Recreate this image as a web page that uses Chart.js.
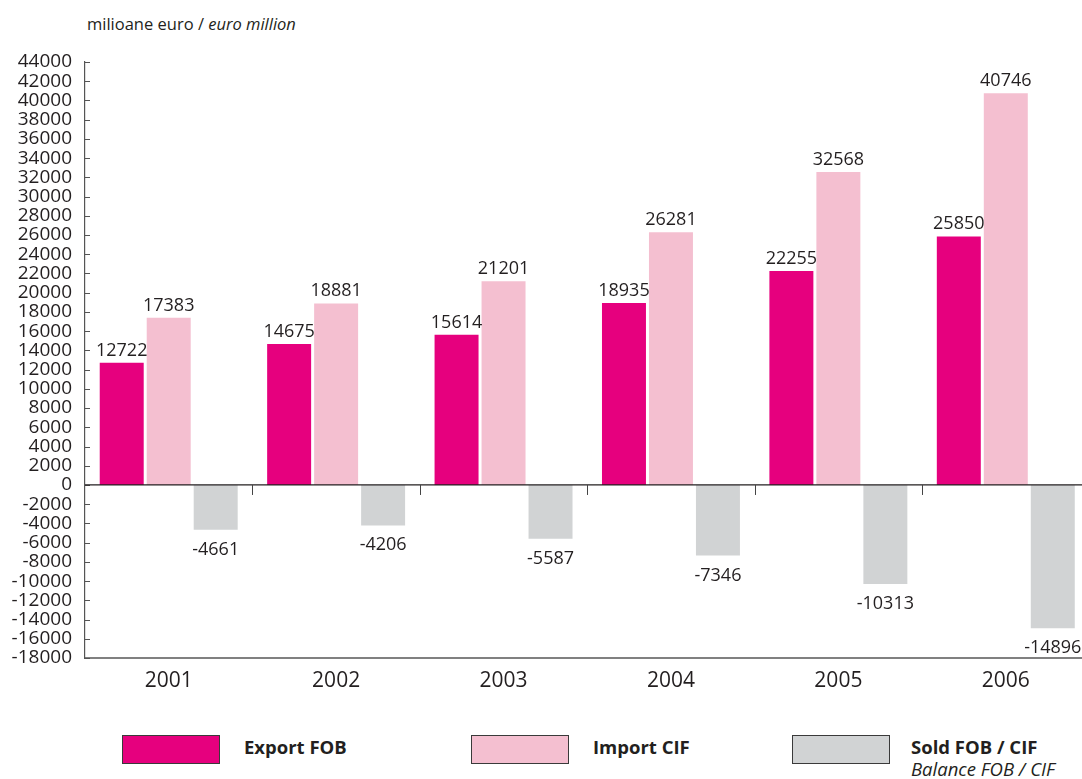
<!DOCTYPE html>
<html>
<head>
<meta charset="utf-8">
<title>Export / Import</title>
<script src="https://cdn.jsdelivr.net/npm/chart.js@4/dist/chart.umd.min.js"></script>
<style>
	body { margin: 0; overflow: hidden; background: #fff; font-family: "Open Sans", sans-serif; color: #231f20; }
	#wrap { position: relative; width: 1082px; height: 779px; overflow: hidden; }
	#unit { position: absolute; left: 87px; top: 12px; font-size: 16.5px; }
	#chartbox { position: absolute; left: 0; top: 0; width: 1100px; height: 700px; }
	.leg { position: absolute; top: 735px; }
	.leg .box { position: absolute; left: 0; top: 0; width: 96px; height: 27px; border: 1px solid #3a3a3a; }
	.leg .txt { position: absolute; left: 122px; top: 0px; white-space: nowrap; font-size: 18.5px; font-weight: bold; line-height: 24px; }
	.leg .sub { display: block; font-weight: normal; font-style: italic; margin-top: -2px; }
</style>
</head>
<body>
<div id="wrap">
	<div id="unit">milioane euro / <i>euro million</i></div>
	<div id="chartbox"><canvas id="mycanvas" width="1100" height="700"></canvas></div>
	<div id="legend"></div>
</div>
<script>
var years = ["2001", "2002", "2003", "2004", "2005", "2006"];
var export_fob = [12722, 14675, 15614, 18935, 22255, 25850];
var import_cif = [17383, 18881, 21201, 26281, 32568, 40746];
var sold_fob_cif = [-4661, -4206, -5587, -7346, -10313, -14896];

var y_min = -18000;
var y_max = 44000;
var y_step = 2000;

var ink = "#231f20";

// value above positive bars, below negative ones
var valueLabels = {
	id: "valueLabels",
	afterDatasetsDraw: function(chart) {
		var ctx = chart.ctx;
		ctx.save();
		ctx.font = "18px 'Open Sans'";
		ctx.fillStyle = ink;
		ctx.textAlign = "center";
		ctx.textBaseline = "alphabetic";
		chart.data.datasets.forEach(function(ds, i) {
			var meta = chart.getDatasetMeta(i);
			meta.data.forEach(function(bar, j) {
				var v = ds.data[j];
				if (v >= 0) {
					ctx.fillText(String(v), bar.x, bar.y - 7);
				} else {
					ctx.fillText(String(v), bar.x, bar.y + 25);
				}
			});
		});
		ctx.restore();
	}
};

// zero line, inward y ticks and the small category marks on the zero line
var axisMarks = {
	id: "axisMarks",
	afterDatasetsDraw: function(chart) {
		var ctx = chart.ctx;
		var xs = chart.scales.x;
		var ys = chart.scales.y;
		var area = chart.chartArea;
		var y0 = ys.getPixelForValue(0);
		ctx.save();
		ctx.strokeStyle = "#555";
		ctx.lineWidth = 1;
		ys.ticks.forEach(function(t) {
			var py = Math.round(ys.getPixelForValue(t.value)) + 0.5;
			ctx.beginPath();
			ctx.moveTo(area.left, py);
			ctx.lineTo(area.left + 5, py);
			ctx.stroke();
		});
		ctx.strokeStyle = ink;
		ctx.lineWidth = 1.2;
		ctx.beginPath();
		ctx.moveTo(area.left, y0);
		ctx.lineTo(area.right, y0);
		ctx.stroke();
		ctx.strokeStyle = "#444";
		ctx.lineWidth = 1;
		for (var i = 0; i < years.length - 1; i++) {
			var px = Math.round((xs.getPixelForValue(i) + xs.getPixelForValue(i + 1)) / 2) + 0.5;
			ctx.beginPath();
			ctx.moveTo(px, y0);
			ctx.lineTo(px, y0 + 10);
			ctx.stroke();
		}
		ctx.restore();
	}
};

var chartdata = {
	labels: years,
	datasets: [
		{
			label: "Export FOB",
			backgroundColor: "#e6007e",
			data: export_fob
		},
		{
			label: "Import CIF",
			backgroundColor: "#f4bfd0",
			data: import_cif
		},
		{
			label: "Sold FOB / CIF",
			sublabel: "Balance FOB / CIF",
			backgroundColor: "#d1d3d4",
			data: sold_fob_cif
		}
	]
};

var ctx = document.getElementById("mycanvas");

var BarGraph = new Chart(ctx, {
	type: "bar",
	data: chartdata,
	plugins: [valueLabels, axisMarks],
	options: {
		responsive: false,
		animation: false,
		events: [],
		layout: { padding: { top: 62, right: 10.5, bottom: 0, left: 0 } },
		datasets: {
			bar: { categoryPercentage: 0.842, barPercentage: 0.936, borderWidth: 0 }
		},
		plugins: {
			legend: { display: false },
			tooltip: { enabled: false }
		},
		scales: {
			x: {
				grid: { display: false },
				border: { display: true, color: "#808080", width: 2 },
				ticks: { color: ink, font: { family: "'Open Sans'", size: 21, lineHeight: 1.2 }, padding: 2 },
				afterFit: function(scale) { scale.height = 42; }
			},
			y: {
				min: y_min,
				max: y_max,
				grid: { display: false, drawTicks: false },
				border: { display: true, color: "#555", width: 1.2 },
				ticks: {
					stepSize: y_step,
					autoSkip: false,
					color: ink,
					padding: 13,
					font: { family: "'Open Sans'", size: 19, lineHeight: 1 },
					callback: function(v) { return String(v); }
				},
				afterFit: function(scale) { scale.width = 85; }
			}
		}
	}
});

// legend built from the datasets
var legend = document.getElementById("legend");
var legendLeft = [122, 471, 792];
chartdata.datasets.forEach(function(ds, i) {
	var item = document.createElement("div");
	item.className = "leg";
	item.style.left = legendLeft[i] + "px";
	var box = document.createElement("div");
	box.className = "box";
	box.style.background = ds.backgroundColor;
	var txt = document.createElement("div");
	txt.className = "txt";
	txt.textContent = ds.label;
	if (i === 2) txt.style.left = "119px";
	if (ds.sublabel) {
		var sub = document.createElement("span");
		sub.className = "sub";
		sub.textContent = ds.sublabel;
		txt.appendChild(sub);
	}
	item.appendChild(box);
	item.appendChild(txt);
	legend.appendChild(item);
});
</script>
</body>
</html>
